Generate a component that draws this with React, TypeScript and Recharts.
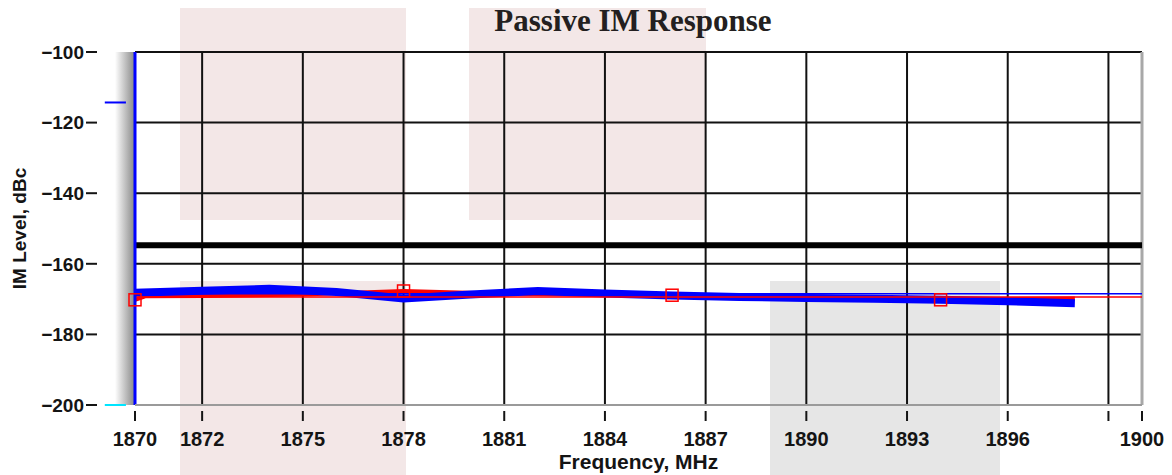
import React from 'react';
import { LineChart, Line, XAxis, YAxis, CartesianGrid, ReferenceLine, Label } from 'recharts';

// axis ticks
const freqTicks = [1870, 1872, 1875, 1878, 1881, 1884, 1887, 1890, 1893, 1896, 1899, 1900];
const levelTicks = [-100, -120, -140, -160, -180, -200];

// thick blue trace
const blueFreq = [1870, 1872, 1874, 1876, 1878, 1880, 1882, 1884, 1886, 1888, 1890, 1892, 1894, 1896, 1898];
const blueLevel = [-168.2, -167.6, -167.1, -168.0, -169.8, -168.7, -167.7, -168.4, -169.0, -169.4, -169.7, -169.9, -170.2, -170.6, -171.2];

// red trace + the points that carry a square marker
const redFreq = [1870, 1870.3, 1872, 1875, 1878, 1881, 1884, 1886, 1890, 1894, 1898];
const redLevel = [-170.2, -169.2, -169.1, -168.7, -167.7, -168.5, -168.8, -168.9, -169.2, -170.2, -169.8];
const markerFreq = [1870, 1878, 1886, 1894];

// flat lines
const limitLevel = -154.75;
const blueRefLevel = -168.45;
const redRefLevel = -169.4;
const blueMarkLevel = -114.3;

const blueData = blueFreq.map((f, i) => ({ f, v: blueLevel[i] }));
const redData = redFreq.map((f, i) => ({ f, v: redLevel[i] }));
const markerData = redData.filter((d) => markerFreq.includes(d.f));

const font = '"Liberation Sans", Arial, sans-serif';
const ink = '#141414';

const fmtLevel = (v: number) => (v < 0 ? '\u2212' + Math.abs(v) : String(v));

const YTick = (props: any) => {
  const { y, payload } = props;
  return (
    <g>
      <text x={84} y={y} dy="0.36em" textAnchor="end" fontFamily={font} fontSize={19} fontWeight="bold" fill={ink}>
        {fmtLevel(payload.value)}
      </text>
      <line x1={86} x2={97} y1={y} y2={y} stroke={ink} strokeWidth={2} />
    </g>
  );
};

const XTick = (props: any) => {
  const { x, payload } = props;
  return (
    <g>
      <line x1={x} x2={x} y1={411} y2={421} stroke={ink} strokeWidth={2} />
      {payload.value !== 1899 && (
        <text x={x} y={446} textAnchor="middle" fontFamily={font} fontSize={20} fontWeight="bold" fill={ink}>
          {payload.value}
        </text>
      )}
    </g>
  );
};

const Square = (props: any) => {
  const { cx, cy } = props;
  if (cx == null || cy == null) return null;
  return <rect x={cx - 6} y={cy - 6} width={12} height={12} fill="none" stroke="#ff0000" strokeWidth={1.5} />;
};

const YLabel = (props: any) => {
  const { viewBox } = props;
  const cy = viewBox.y + viewBox.height / 2;
  return (
    <text x={26} y={cy} transform={`rotate(-90, 26, ${cy})`} textAnchor="middle" fontFamily={font} fontSize={19} fontWeight="bold" fill={ink}>
      IM Level, dBc
    </text>
  );
};

const box = (left: number, top: number, width: number, height: number, background: string): React.CSSProperties => ({
  position: 'absolute',
  left,
  top,
  width,
  height,
  background,
});

export default function App() {
  return (
    <div style={{ position: 'relative', width: 1172, height: 475, margin: '-8px 0 0 -8px', overflow: 'hidden', background: '#fff' }}>
      <div style={box(180, 0, 226, 220, '#f3e7e7')} />
      <div style={box(180, 281, 226, 194, '#f3e7e7')} />
      <div style={box(469, 0, 237, 220, '#f3e7e7')} />
      <div style={box(770, 281, 230, 194, '#e6e6e6')} />
      <div style={box(115, 52, 19, 353, 'linear-gradient(to right, rgba(255,255,255,0), #8c8c8c)')} />
      <div
        style={{
          position: 'absolute',
          left: 433,
          top: 3,
          width: 400,
          textAlign: 'center',
          fontFamily: '"Liberation Serif", "Times New Roman", serif',
          fontWeight: 'bold',
          fontSize: 31,
          color: '#231f20',
          lineHeight: '36px',
        }}
      >
        Passive IM Response
      </div>
      <div style={{ position: 'absolute', left: 0, top: 0 }}>
        <LineChart width={1172} height={475} margin={{ top: 52, right: 30, bottom: 0, left: 0 }}>
          <CartesianGrid stroke="#111" strokeWidth={2} />
          <XAxis
            type="number"
            dataKey="f"
            domain={[1870, 1900]}
            ticks={freqTicks}
            interval={0}
            height={70}
            tick={<XTick />}
            tickLine={false}
            axisLine={{ stroke: '#9a9a9a', strokeWidth: 2 }}
          >
            <Label value="Frequency, MHz" position="insideBottom" offset={6} fontFamily={font} fontSize={21} fontWeight="bold" fill={ink} />
          </XAxis>
          <YAxis
            type="number"
            domain={[-200, -100]}
            ticks={levelTicks}
            interval={0}
            width={135}
            tick={<YTick />}
            tickLine={false}
            axisLine={false}
          >
            <Label content={<YLabel />} />
          </YAxis>
          <ReferenceLine x={1900} stroke="#a8a8a8" strokeWidth={3} />
          <ReferenceLine y={limitLevel} stroke="#000" strokeWidth={6} />
          <Line data={redData} dataKey="v" stroke="#ff0000" strokeWidth={4} dot={false} isAnimationActive={false} />
          <Line data={blueData} dataKey="v" stroke="#0000ff" strokeWidth={8} dot={false} isAnimationActive={false} />
          <ReferenceLine y={blueRefLevel} stroke="#0000ff" strokeWidth={1.5} />
          <ReferenceLine y={redRefLevel} stroke="#ff0000" strokeWidth={1.5} />
          <Line data={markerData} dataKey="v" stroke="none" dot={<Square />} isAnimationActive={false} />
          <ReferenceLine x={1870} stroke="#0000ff" strokeWidth={3} />
          <ReferenceLine
            segment={[{ x: 1869.1, y: blueMarkLevel }, { x: 1869.73, y: blueMarkLevel }]}
            stroke="#0000ff"
            strokeWidth={2}
            ifOverflow="visible"
          />
          <ReferenceLine
            segment={[{ x: 1869.1, y: -200 }, { x: 1869.73, y: -200 }]}
            stroke="#00e5ff"
            strokeWidth={2}
            ifOverflow="visible"
          />
        </LineChart>
      </div>
    </div>
  );
}
